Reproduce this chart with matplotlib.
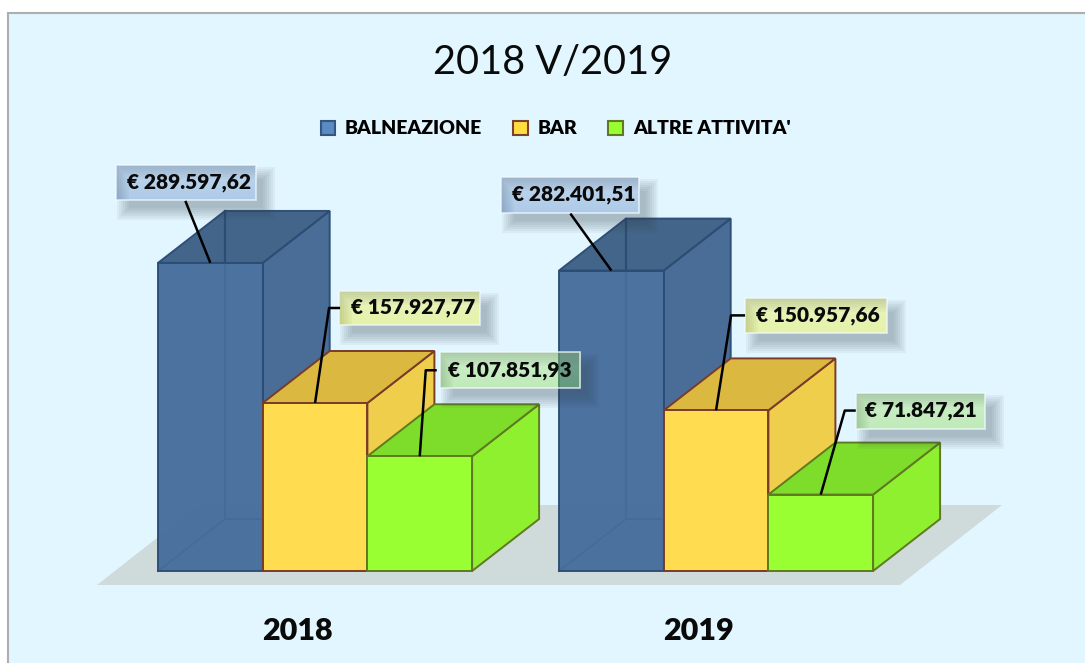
import matplotlib
matplotlib.use("Agg")
import matplotlib.pyplot as plt
import numpy as np
from matplotlib.colors import to_rgb
from matplotlib.patches import PathPatch, Polygon, Rectangle
from matplotlib.path import Path

plt.rcParams['font.family'] = ['Lato', 'DejaVu Sans']

# ---- data ----
years = ['2018', '2019']
series_names = ['BALNEAZIONE', 'BAR', "ALTRE ATTIVITA'"]
balneazione = [289597.62, 282401.51]
bar = [157927.77, 150957.66]
altre = [107851.93, 71847.21]
title = '2018 V/2019'

# ---- style ----
W, H = 1085, 663
BASE_Y = 571          # pixel row of value 0
EUR_PER_PX = 940.0
BAR_PX = 104.7
X0_PX = 158
GROUP_STEP = 401 / BAR_PX
DX = 67 / BAR_PX
DY = 52 * EUR_PER_PX
BG = '#E2F6FF'
styles = [
    dict(front='#466D9C', top='#3B5F84', side='#446794', edge='#2B4C74', alpha=0.96,
         leg='#5B8AC4', legedge='#34567F', box='#5F88C4'),
    dict(front='#FFDC50', top='#DBB83F', side='#EECE4A', edge='#7A3B28', alpha=1.0,
         leg='#FFDC40', legedge='#7A4030', box='#ECEC26'),
    dict(front='#99FF33', top='#7EDC2A', side='#8FF030', edge='#5F7A20', alpha=1.0,
         leg='#99FF33', legedge='#5F7A20', box='#8DDA4D'),
]
# label box (left, top, right, bottom) and leader elbow as pixel offsets from bar-top centre
label_boxes = [
    [(-94, -98, 46, -63), (24, -112, 165, -78), (20, -104, 160, -68)],
    [(-110, -94, 28, -58), (29, -112, 171, -77), (35, -102, 164, -66)],
]
label_text_dx = [[3, 4, 0], [3, 1.5, 1]]
leader_start = [
    [(-25, -62), (25, -95), (17, -86)],
    [(-41, -57), (29, -95), (35, -84)],
]
leader_elbow = [
    [None, (14, -95), (6, -86)],
    [None, (15, -95), (24, -84)],
]

fig = plt.figure(figsize=(W / 100, H / 100), dpi=100, facecolor='white')
ax = fig.add_axes([0, 0, 1, 1])
xlim = (-X0_PX / BAR_PX, (W - X0_PX) / BAR_PX)
ylim = (-(H - BASE_Y) * EUR_PER_PX, BASE_Y * EUR_PER_PX)
ax.axis('off')

def px(x, y):
    """pixel position -> data position"""
    return (x - X0_PX) / BAR_PX, (BASE_Y - y) * EUR_PER_PX

def off(x, v, dx, dy):
    """pixel offset from a data position"""
    return x + dx / BAR_PX, v - dy * EUR_PER_PX

def ring(q0, q1, p0, p1):
    """rectangle q0-q1 with the rectangle p0-p1 cut out"""
    outer = [q0, (q1[0], q0[1]), q1, (q0[0], q1[1]), q0]
    inner = [p0, (p0[0], p1[1]), p1, (p1[0], p0[1]), p0]
    codes = [Path.MOVETO, Path.LINETO, Path.LINETO, Path.LINETO, Path.CLOSEPOLY]
    return Path(outer + inner, codes + codes)

# panel
bl = px(8, H + 5); tr = px(W + 5, 13)
ax.add_patch(Rectangle(bl, tr[0] - bl[0], tr[1] - bl[1], fc=BG, ec='#AEAEAE', lw=1.5, zorder=0))

# floor
a = px(97, 585); b = px(900, 585); c = px(1002, 505); d = px(199, 505)
ax.add_patch(Polygon([a, b, c, d], fc='#CFDBDB', ec='none', zorder=1))

z = 2
for g, vals in enumerate(zip(balneazione, bar, altre)):
    for s, v in enumerate(vals):
        st = styles[s]
        x0 = g * GROUP_STEP + s
        x1 = x0 + 1
        lw = 1.4
        # hidden back edges
        if s == 0:
            ax.plot([x0 + DX, x0 + DX, x1 + DX], [v + DY, DY, DY], color=st['edge'], lw=1.6, zorder=z + 0.5)
            ax.plot([x0, x0 + DX], [0, DY], color=st['edge'], lw=1.3, zorder=z + 0.5)
        ax.add_patch(Polygon([(x1, 0), (x1 + DX, DY), (x1 + DX, v + DY), (x1, v)],
                             fc=st['side'], ec=st['edge'], lw=lw, alpha=st['alpha'], zorder=z))
        ax.add_patch(Polygon([(x0, v), (x1, v), (x1 + DX, v + DY), (x0 + DX, v + DY)],
                             fc=st['top'], ec=st['edge'], lw=lw, alpha=st['alpha'], zorder=z))
        ax.add_patch(Rectangle((x0, 0), 1, v, fc=st['front'], ec=st['edge'], lw=lw,
                               alpha=st['alpha'], zorder=z + 1))
        z += 2

# data labels
for g, vals in enumerate(zip(balneazione, bar, altre)):
    for s, v in enumerate(vals):
        cx = g * GROUP_STEP + s + 0.5
        l, t, r, btm = label_boxes[g][s]
        p0 = off(cx, v, l, btm); p1 = off(cx, v, r, t)
        # soft shadow, only outside the box
        for k in range(7):
            grow = 9 - 2 * k
            q0 = off(cx, v, l + 10 - grow, btm + 11 + grow)
            q1 = off(cx, v, r + 10 + grow, t + 11 - grow)
            ql = max(q0[0], p0[0]); qb = min(q0[1], p0[1])
            ax.add_patch(PathPatch(ring((ql, qb), (q1[0], min(q1[1], p1[1])), p0, p1),
                                   fc='#33434E', ec='none', alpha=0.05, zorder=50))
        # box with a light top-to-bottom gradient
        rgb = np.array(to_rgb(styles[s]['box']))
        top = rgb + (1 - rgb) * 0.3
        low = rgb
        grad = np.linspace(0, 1, 32)[:, None, None]
        img = np.concatenate([top * (1 - grad) + low * grad, np.full((32, 1, 1), 0.4)], axis=2)
        ax.imshow(img, extent=(p0[0], p1[0], p0[1], p1[1]), aspect='auto', origin='upper',
                  interpolation='bilinear', zorder=51)
        ax.add_patch(Rectangle(p0, p1[0] - p0[0], p1[1] - p0[1], fc='none', ec='#F2FAFF',
                               lw=1.2, alpha=0.75, zorder=51.5))
        txt = '€ ' + f'{v:,.2f}'.replace(',', 'X').replace('.', ',').replace('X', '.')
        tx, ty = off(cx, v, (l + r) / 2 + label_text_dx[g][s], (t + btm) / 2)
        ax.text(tx, ty, txt, ha='center', va='center', fontsize=15, fontweight='heavy', color='#0A0A0A', zorder=53)
        pts = [leader_start[g][s]]
        if leader_elbow[g][s] is not None:
            pts.append(leader_elbow[g][s])
        pts.append((0, 0))
        xy = [off(cx, v, *p) for p in pts]
        ax.plot([p[0] for p in xy], [p[1] for p in xy], color='black', lw=1.8, zorder=52,
                solid_capstyle='butt')

# category labels
for g, y in enumerate(years):
    tx, ty = px(0, 631.5)
    ax.text(g * GROUP_STEP + 1.335, ty, y, ha='center', va='center', fontsize=22,
            fontweight='heavy', color='#0A0A0A', zorder=60)

# title
tx, ty = px(553, 62)
ax.text(tx, ty, title, ha='center', va='center', fontsize=28.5, color='#0A0A0A', zorder=60)

# legend
handles = [Rectangle((0, 0), 1, 1, fc=st['leg'], ec=st['legedge'], lw=1.5) for st in styles]
ax.legend(handles, series_names, loc='center', bbox_to_anchor=(555.5 / W, 1 - 129 / H),
          bbox_transform=fig.transFigure, ncol=3, frameon=False,
          handlelength=0.75, handleheight=0.75, handletextpad=0.5, columnspacing=1.6,
          prop=dict(weight='heavy', size=14))

ax.set_xlim(*xlim)
ax.set_ylim(*ylim)
fig.savefig('out.png', dpi=100, facecolor='white')
